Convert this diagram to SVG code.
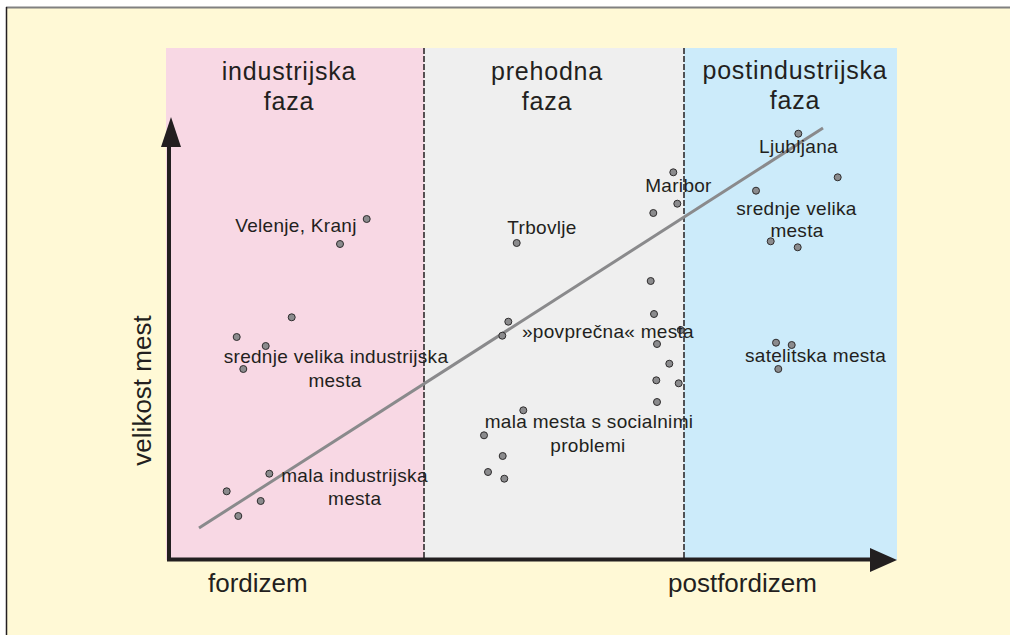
<svg xmlns="http://www.w3.org/2000/svg" width="1010" height="635" viewBox="0 0 1010 635">
<defs>
<style>
.t{font-family:"Liberation Sans",Arial,sans-serif;fill:#231F20;}
.h{font-size:25px;letter-spacing:0.8px;text-anchor:middle;}
.l{font-size:19px;letter-spacing:0.3px;text-anchor:middle;}
.ax{font-size:26px;}
.pt{fill:#8B8B8D;stroke:#2E2C2D;stroke-width:1;}
.dash{stroke:#231F20;stroke-width:1.5;stroke-dasharray:6 2;fill:none;}
</style>
<filter id="blur" x="-5%" y="-5%" width="110%" height="110%"><feGaussianBlur stdDeviation="0.6"/></filter>
</defs>
<rect x="0" y="0" width="1010" height="635" fill="#FFFFFF"/>
<rect x="6" y="7" width="1004" height="628" fill="#FFF9D6"/>
<line x1="6" y1="7.5" x2="1010" y2="7.5" stroke="#808080" stroke-width="2"/>
<line x1="6.5" y1="7" x2="6.5" y2="635" stroke="#231F20" stroke-width="1.5"/>

<g id="panels">
<rect x="166" y="48" width="258" height="512" fill="#F8D8E4"/>
<rect x="424" y="48" width="260" height="512" fill="#EFEFEF"/>
<rect x="684" y="48" width="213" height="512" fill="#CCEBFA"/>
<line class="dash" x1="424" y1="48" x2="424" y2="558"/>
<line class="dash" x1="684" y1="48" x2="684" y2="558"/>
</g>

<g id="phase-industrijska">
<text class="t h" x="289" y="80">industrijska</text>
<text class="t h" x="289" y="110">faza</text>
</g>
<g id="phase-prehodna">
<text class="t h" x="547" y="80">prehodna</text>
<text class="t h" x="547" y="110">faza</text>
</g>
<g id="phase-postindustrijska">
<text class="t h" x="795" y="79">postindustrijska</text>
<text class="t h" x="795" y="109">faza</text>
</g>

<g id="trend">
<line x1="199" y1="528" x2="823" y2="128" stroke="#8A8A8C" stroke-width="3" filter="url(#blur)"/>
</g>

<g id="connectors">
<line x1="169" y1="560" x2="169" y2="140" stroke="#231F20" stroke-width="4"/>
<polygon points="171,117 181,147 161,147" fill="#231F20"/>
<line x1="167" y1="559.5" x2="875" y2="559.5" stroke="#231F20" stroke-width="4"/>
<polygon points="897,560 870,548 870,572" fill="#231F20"/>
</g>

<g id="axis-labels">
<text class="t ax" transform="translate(151,390.5) rotate(-90)" text-anchor="middle">velikost mest</text>
<text class="t ax" x="208" y="592">fordizem</text>
<text class="t ax" x="668" y="592">postfordizem</text>
</g>

<g id="points">
<circle class="pt" cx="366.7" cy="219" r="3.5"/>
<circle class="pt" cx="340" cy="244" r="3.5"/>
<circle class="pt" cx="673.3" cy="172.3" r="3.5"/>
<circle class="pt" cx="677.3" cy="203.7" r="3.5"/>
<circle class="pt" cx="653.3" cy="213" r="3.5"/>
<circle class="pt" cx="516.7" cy="243" r="3.5"/>
<circle class="pt" cx="798.3" cy="133.7" r="3.5"/>
<circle class="pt" cx="837.7" cy="177.3" r="3.5"/>
<circle class="pt" cx="756" cy="190.7" r="3.5"/>
<circle class="pt" cx="770.7" cy="241.3" r="3.5"/>
<circle class="pt" cx="797.7" cy="247.3" r="3.5"/>
<circle class="pt" cx="291.7" cy="317.3" r="3.5"/>
<circle class="pt" cx="236.7" cy="337" r="3.5"/>
<circle class="pt" cx="265.7" cy="346" r="3.5"/>
<circle class="pt" cx="243.3" cy="369" r="3.5"/>
<circle class="pt" cx="269.3" cy="473.7" r="3.5"/>
<circle class="pt" cx="226.7" cy="491.3" r="3.5"/>
<circle class="pt" cx="260.7" cy="501" r="3.5"/>
<circle class="pt" cx="238.3" cy="516" r="3.5"/>
<circle class="pt" cx="650.7" cy="281" r="3.5"/>
<circle class="pt" cx="508.3" cy="321.7" r="3.5"/>
<circle class="pt" cx="654" cy="314" r="3.5"/>
<circle class="pt" cx="502.3" cy="335.7" r="3.5"/>
<circle class="pt" cx="680.7" cy="330" r="3.5"/>
<circle class="pt" cx="657" cy="344" r="3.5"/>
<circle class="pt" cx="669.3" cy="363.7" r="3.5"/>
<circle class="pt" cx="656.3" cy="380.3" r="3.5"/>
<circle class="pt" cx="678.7" cy="383.3" r="3.5"/>
<circle class="pt" cx="657" cy="402" r="3.5"/>
<circle class="pt" cx="523.3" cy="410.3" r="3.5"/>
<circle class="pt" cx="484" cy="435.3" r="3.5"/>
<circle class="pt" cx="502.7" cy="456" r="3.5"/>
<circle class="pt" cx="488" cy="472" r="3.5"/>
<circle class="pt" cx="504.3" cy="478.7" r="3.5"/>
<circle class="pt" cx="776" cy="342.7" r="3.5"/>
<circle class="pt" cx="791.7" cy="345" r="3.5"/>
<circle class="pt" cx="778.3" cy="369" r="3.5"/>
</g>

<g id="label-velenje"><text class="t l" x="296" y="232">Velenje, Kranj</text></g>
<g id="label-trbovlje"><text class="t l" x="542" y="234">Trbovlje</text></g>
<g id="label-maribor"><text class="t l" x="678.5" y="192">Maribor</text></g>
<g id="label-ljubljana"><text class="t l" x="798.5" y="153">Ljubljana</text></g>
<g id="label-srednje-velika-mesta">
<text class="t l" x="796.5" y="215">srednje velika</text>
<text class="t l" x="797" y="237">mesta</text>
</g>
<g id="label-srednje-velika-industrijska">
<text class="t l" x="336" y="363">srednje velika industrijska</text>
<text class="t l" x="335" y="387">mesta</text>
</g>
<g id="label-mala-industrijska">
<text class="t l" x="354.5" y="482">mala industrijska</text>
<text class="t l" x="354.7" y="505">mesta</text>
</g>
<g id="label-povprecna"><text class="t l" x="608" y="338">»povprečna« mesta</text></g>
<g id="label-mala-mesta">
<text class="t l" x="589" y="428">mala mesta s socialnimi</text>
<text class="t l" x="588" y="452">problemi</text>
</g>
<g id="label-satelitska"><text class="t l" x="815.5" y="362">satelitska mesta</text></g>
</svg>
